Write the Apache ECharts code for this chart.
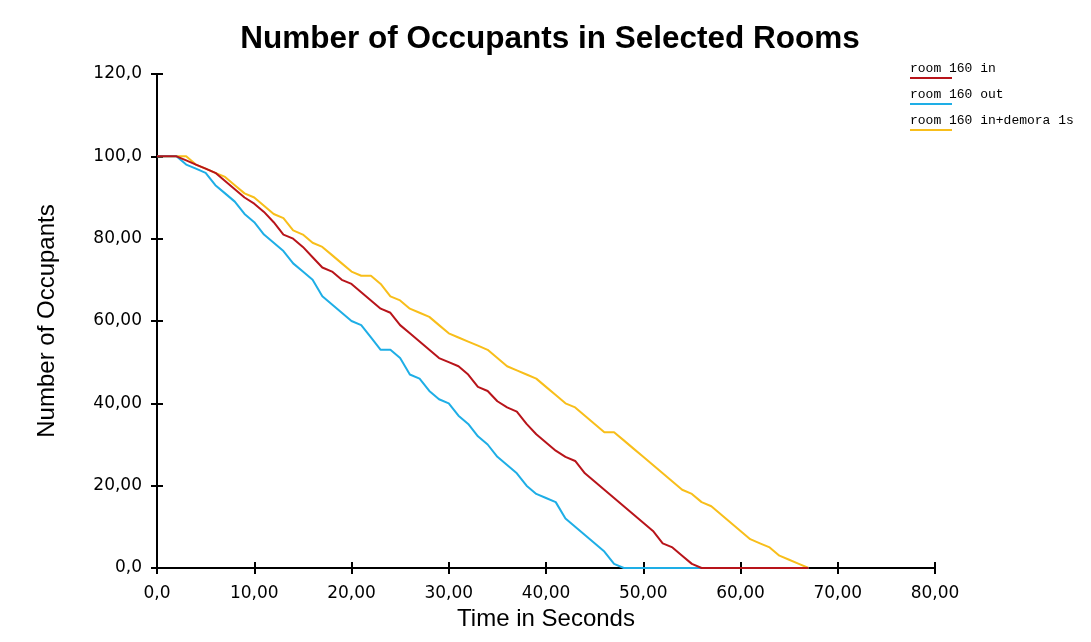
<!DOCTYPE html>
<html>
<head>
<meta charset="utf-8">
<script src="https://cdn.jsdelivr.net/npm/echarts@6/dist/echarts.min.js"></script>
<style>html,body{margin:0;padding:0;background:#fff}#c{width:1091px;height:642px}</style>
</head>
<body>
<div id="c"></div>
<script>
var seriesNames = ['room 160 in', 'room 160 out', 'room 160 in+demora 1s'];
var seriesColors = ['#B8141A', '#1EAEE6', '#F8BE1A'];
var times = [];
for (var i = 0; i <= 67; i++) times.push(i);
var roomIn = [100,100,100,99,98,97,96,94,92,90,88.5,86.5,84,81,80,78,75.5,73,72,70,69,67,65,63,62,59,57,55,53,51,50,49,47,44,43,40.5,39,38,35,32.5,30.5,28.5,27,26,23,21,19,17,15,13,11,9,6,5,3,1,0,0,0,0,0,0,0,0,0,0,0,0];
var roomOut = [100,100,100,98,97,96,93,91,89,86,84,81,79,77,74,72,70,66,64,62,60,59,56,53,53,51,47,46,43,41,40,37,35,32,30,27,25,23,20,18,17,16,12,10,8,6,4,1,0,0,0,0,0,0,0,0,0,0,0,0,0,0,0,0,0,0,0,0];
var roomInDelay = [100,100,100,100,98,97,96,95,93,91,90,88,86,85,82,81,79,78,76,74,72,71,71,69,66,65,63,62,61,59,57,56,55,54,53,51,49,48,47,46,44,42,40,39,37,35,33,33,31,29,27,25,23,21,19,18,16,15,13,11,9,7,6,5,3,2,1,0];
var yTickLabels = {0:'0,0',20:'20,00',40:'40,00',60:'60,00',80:'80,00',100:'100,0',120:'120,0'};
var xTickLabels = {0:'0,0',10:'10,00',20:'20,00',30:'30,00',40:'40,00',50:'50,00',60:'60,00',70:'70,00',80:'80,00'};
var allData = [roomIn, roomOut, roomInDelay];

var chart = echarts.init(document.getElementById('c'));
var axisLine = {show:true, onZero:false, lineStyle:{color:'#000', width:2}};
var series = allData.map(function(d, k){
  return {
    name: seriesNames[k], type:'line', showSymbol:false, symbol:'none',
    data: d.map(function(v, i){ return [times[i], v]; }),
    lineStyle:{color:seriesColors[k], width:2}, itemStyle:{color:seriesColors[k]},
    z: 3 - k
  };
});
var legendGraphics = [];
seriesNames.forEach(function(n, k){
  legendGraphics.push({type:'text', left:910, top:62 + k*26, style:{text:n, font:'13px "Liberation Mono", monospace', fill:'#000'}});
  legendGraphics.push({type:'rect', left:910, top:77 + k*26, shape:{width:42, height:2}, style:{fill:seriesColors[k]}});
});
chart.setOption({
  backgroundColor:'#fff',
  animation:false,
  title:{text:'Number of Occupants in Selected Rooms', left:545, textAlign:'center', top:18,
    textStyle:{fontFamily:'Liberation Sans, Arial', fontWeight:'bold', fontSize:31.5, color:'#000'}},
  grid:{left:157, right:156, top:74, bottom:74},
  xAxis:[{
    type:'value', min:0, max:80, interval:10,
    name:'Time in Seconds', nameLocation:'middle', nameGap:39,
    nameTextStyle:{fontFamily:'Liberation Sans, Arial', fontSize:24, color:'#000'},
    axisLine:axisLine, axisTick:{show:true, length:6, lineStyle:{color:'#000', width:2}},
    axisLabel:{color:'#000', fontFamily:'DejaVu Sans, Verdana', fontSize:17, margin:17,
      formatter:function(v){ return xTickLabels[v]; }},
    splitLine:{show:false}
  },{
    type:'value', min:0, max:80, interval:10, position:'bottom',
    axisLine:{show:false}, axisTick:{show:true, inside:true, length:6, lineStyle:{color:'#000', width:2}},
    axisLabel:{show:false}, splitLine:{show:false}
  }],
  yAxis:[{
    type:'value', min:0, max:120, interval:20,
    name:'Number of Occupants', nameLocation:'middle', nameGap:98,
    nameTextStyle:{fontFamily:'Liberation Sans, Arial', fontSize:24, color:'#000'},
    axisLine:axisLine, axisTick:{show:true, length:6, lineStyle:{color:'#000', width:2}},
    axisLabel:{color:'#000', fontFamily:'DejaVu Sans, Verdana', fontSize:17, margin:15,
      padding:[8,0,0,0],
      formatter:function(v){ return yTickLabels[v]; }},
    splitLine:{show:false}
  },{
    type:'value', min:0, max:120, interval:20, position:'left',
    axisLine:{show:false}, axisTick:{show:true, inside:true, length:6, lineStyle:{color:'#000', width:2}},
    axisLabel:{show:false}, splitLine:{show:false}
  }],
  graphic: legendGraphics,
  series: series
});
</script>
</body>
</html>
